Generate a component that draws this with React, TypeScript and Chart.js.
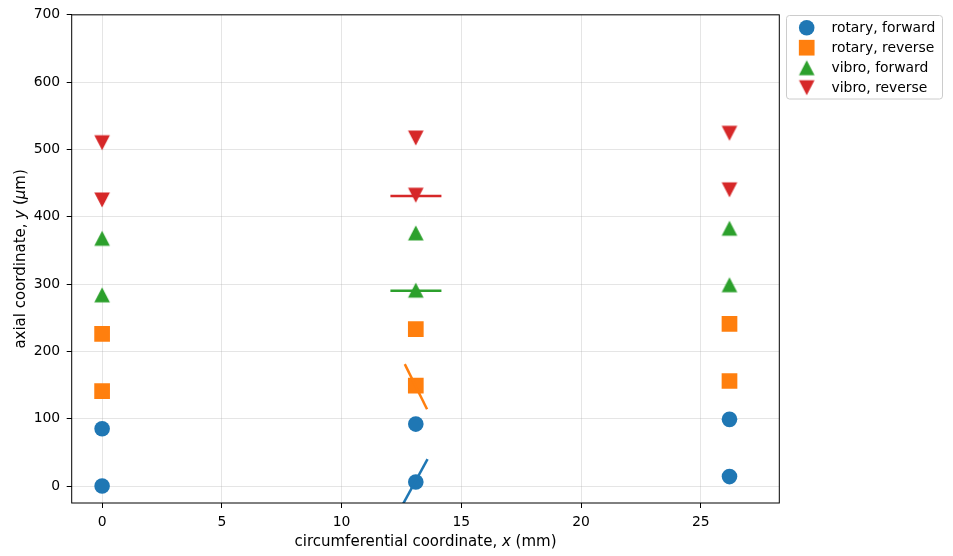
import React, { useEffect, useRef } from "react";
import { Chart, registerables } from "chart.js";

Chart.register(...registerables);

// ---------- data ----------
const X_TICKS = [0, 5, 10, 15, 20, 25];
const Y_TICKS = [0, 100, 200, 300, 400, 500, 600, 700];

const SERIES_LABELS = ["rotary, forward", "rotary, reverse", "vibro, forward", "vibro, reverse"];
const SERIES_COLORS = ["#1f77b4", "#ff7f0e", "#2ca02c", "#d62728"];

const X_POS = [0, 0, 13.1, 13.1, 26.2, 26.2];
const ROTARY_FWD = [0, 85, 6, 92, 14, 99];
const ROTARY_REV = [141, 226, 149, 233, 156, 241];
const VIBRO_FWD = [284, 368, 291, 376, 299, 383];
const VIBRO_REV = [425, 510, 432, 517, 440, 524];

const ROTARY_FWD_SEG_X = [12.44, 13.59];
const ROTARY_FWD_SEG_Y = [-35, 40];
const ROTARY_REV_SEG_X = [12.64, 13.57];
const ROTARY_REV_SEG_Y = [181, 114];
const VIBRO_FWD_SEG_X = [12.04, 14.17];
const VIBRO_FWD_SEG_Y = [290, 290];
const VIBRO_REV_SEG_X = [12.04, 14.17];
const VIBRO_REV_SEG_Y = [431, 431];

const X_LIMITS = [-1.27, 28.28];
const Y_LIMITS = [-25.25, 700];

const FONT = "'DejaVu Sans', 'Liberation Sans', sans-serif";

function pts(xs: number[], ys: number[]) {
  return xs.map((x, i) => ({ x, y: ys[i] }));
}

function makeTriangle(color: string, up: boolean): HTMLCanvasElement {
  const c = document.createElement("canvas");
  c.width = 18;
  c.height = 18;
  const ctx = c.getContext("2d")!;
  const cx = 9, cy = 9, hw = 7.8, hh = 7.5;
  ctx.fillStyle = color;
  ctx.beginPath();
  if (up) {
    ctx.moveTo(cx, cy - hh);
    ctx.lineTo(cx + hw, cy + hh);
    ctx.lineTo(cx - hw, cy + hh);
  } else {
    ctx.moveTo(cx, cy + hh);
    ctx.lineTo(cx + hw, cy - hh);
    ctx.lineTo(cx - hw, cy - hh);
  }
  ctx.closePath();
  ctx.fill();
  return c;
}

type Part = { t: string; it?: boolean };

function drawRich(ctx: CanvasRenderingContext2D, parts: Part[], size: number, cx: number, baseY: number) {
  const fontOf = (p: Part) => `${p.it ? "italic " : ""}${size}px ${FONT}`;
  let total = 0;
  const widths = parts.map((p) => {
    ctx.font = fontOf(p);
    const w = ctx.measureText(p.t).width;
    total += w;
    return w;
  });
  let x = cx - total / 2;
  ctx.textAlign = "left";
  ctx.textBaseline = "alphabetic";
  parts.forEach((p, i) => {
    ctx.font = fontOf(p);
    ctx.fillText(p.t, x, baseY);
    x += widths[i];
  });
}

export default function App() {
  const ref = useRef<HTMLCanvasElement | null>(null);

  useEffect(() => {
    if (!ref.current) return;
    const triUp = makeTriangle(SERIES_COLORS[2], true);
    const triDown = makeTriangle(SERIES_COLORS[3], false);

    const markerStyles: any[] = ["circle", "rect", triUp, triDown];
    const markerRadius = [7.8, 11.1, 9, 9];

    const decor = {
      id: "decor",
      afterDraw(chart: any) {
        const ctx: CanvasRenderingContext2D = chart.ctx;
        const a = chart.chartArea;
        ctx.save();
        // frame
        ctx.strokeStyle = "#000";
        ctx.lineWidth = 1;
        ctx.strokeRect(a.left, a.top, a.right - a.left, a.bottom - a.top);
        // axis titles
        ctx.fillStyle = "#000";
        drawRich(
          ctx,
          [{ t: "circumferential coordinate, " }, { t: "x", it: true }, { t: " (mm)" }],
          15,
          (a.left + a.right) / 2,
          546
        );
        ctx.save();
        ctx.translate(25, (a.top + a.bottom) / 2);
        ctx.rotate(-Math.PI / 2);
        drawRich(
          ctx,
          [{ t: "axial coordinate, " }, { t: "y", it: true }, { t: " (" }, { t: "μ", it: true }, { t: "m)" }],
          15,
          0,
          0
        );
        ctx.restore();
        // legend
        const lx = 786.5, ly = 15.5, lw = 156, lh = 83.5, r = 3;
        ctx.beginPath();
        ctx.moveTo(lx + r, ly);
        ctx.lineTo(lx + lw - r, ly);
        ctx.arcTo(lx + lw, ly, lx + lw, ly + r, r);
        ctx.lineTo(lx + lw, ly + lh - r);
        ctx.arcTo(lx + lw, ly + lh, lx + lw - r, ly + lh, r);
        ctx.lineTo(lx + r, ly + lh);
        ctx.arcTo(lx, ly + lh, lx, ly + lh - r, r);
        ctx.lineTo(lx, ly + r);
        ctx.arcTo(lx, ly, lx + r, ly, r);
        ctx.closePath();
        ctx.fillStyle = "rgba(255,255,255,0.8)";
        ctx.fill();
        ctx.strokeStyle = "#cccccc";
        ctx.stroke();
        SERIES_LABELS.forEach((label, i) => {
          const y = 27.7 + i * 20;
          const x = 806.7;
          ctx.fillStyle = SERIES_COLORS[i];
          const st = markerStyles[i];
          if (st === "circle") {
            ctx.beginPath();
            ctx.arc(x, y, markerRadius[i], 0, Math.PI * 2);
            ctx.fill();
          } else if (st === "rect") {
            const s = markerRadius[i] * Math.SQRT1_2;
            ctx.fillRect(x - s, y - s, 2 * s, 2 * s);
          } else {
            ctx.drawImage(st, x - st.width / 2, y - st.height / 2);
          }
          ctx.fillStyle = "#000";
          ctx.font = `13.9px ${FONT}`;
          ctx.textAlign = "left";
          ctx.textBaseline = "middle";
          ctx.fillText(label, 831.5, y + 0.5);
        });
        ctx.restore();
      },
    };

    const series = [ROTARY_FWD, ROTARY_REV, VIBRO_FWD, VIBRO_REV];
    const segs = [
      [ROTARY_FWD_SEG_X, ROTARY_FWD_SEG_Y],
      [ROTARY_REV_SEG_X, ROTARY_REV_SEG_Y],
      [VIBRO_FWD_SEG_X, VIBRO_FWD_SEG_Y],
      [VIBRO_REV_SEG_X, VIBRO_REV_SEG_Y],
    ];

    const datasets: any[] = [];
    series.forEach((ys, i) => {
      datasets.push({
        label: SERIES_LABELS[i],
        data: pts(X_POS, ys),
        pointStyle: markerStyles[i],
        pointRadius: markerRadius[i],
        pointHoverRadius: markerRadius[i],
        backgroundColor: SERIES_COLORS[i],
        borderColor: SERIES_COLORS[i],
        borderWidth: 0,
        showLine: false,
        order: 2,
      });
    });
    segs.forEach(([xs, ys], i) => {
      datasets.push({
        label: SERIES_LABELS[i] + " fit",
        data: pts(xs, ys),
        showLine: true,
        pointRadius: 0,
        borderColor: SERIES_COLORS[i],
        backgroundColor: SERIES_COLORS[i],
        borderWidth: 2.5,
        clip: 0,
        order: 1,
      });
    });

    const gridColor = "rgba(176,176,176,0.33)";
    const tickFont = { family: FONT, size: 13.9 };

    const chart = new Chart(ref.current, {
      type: "scatter",
      data: { datasets },
      options: {
        animation: false,
        responsive: false,
        devicePixelRatio: 1,
        layout: { padding: { top: 14.7, right: 953 - 779.3, left: 0, bottom: 0 } },
        plugins: { legend: { display: false }, tooltip: { enabled: false } },
        events: [],
        scales: {
          x: {
            type: "linear",
            min: X_LIMITS[0],
            max: X_LIMITS[1],
            afterBuildTicks: (s: any) => {
              s.ticks = X_TICKS.map((v) => ({ value: v }));
            },
            afterFit: (s: any) => {
              s.height = 556 - 503;
            },
            ticks: { font: tickFont, color: "#000", padding: 6, maxRotation: 0, autoSkip: false },
            grid: { color: gridColor, tickColor: "#000", tickLength: 5, lineWidth: 1 },
            border: { display: false },
          },
          y: {
            type: "linear",
            min: Y_LIMITS[0],
            max: Y_LIMITS[1],
            afterBuildTicks: (s: any) => {
              s.ticks = Y_TICKS.map((v) => ({ value: v }));
            },
            afterFit: (s: any) => {
              s.width = 71.7;
            },
            ticks: { font: tickFont, color: "#000", padding: 6.5, autoSkip: false },
            grid: { color: gridColor, tickColor: "#000", tickLength: 5, lineWidth: 1 },
            border: { display: false },
          },
        },
      } as any,
      plugins: [decor],
    });
    return () => chart.destroy();
  }, []);

  return (
    <div style={{ position: "absolute", left: 0, top: 0, width: 953, height: 556, background: "#fff" }}>
      <canvas ref={ref} width={953} height={556} style={{ display: "block", width: 953, height: 556 }} />
    </div>
  );
}
